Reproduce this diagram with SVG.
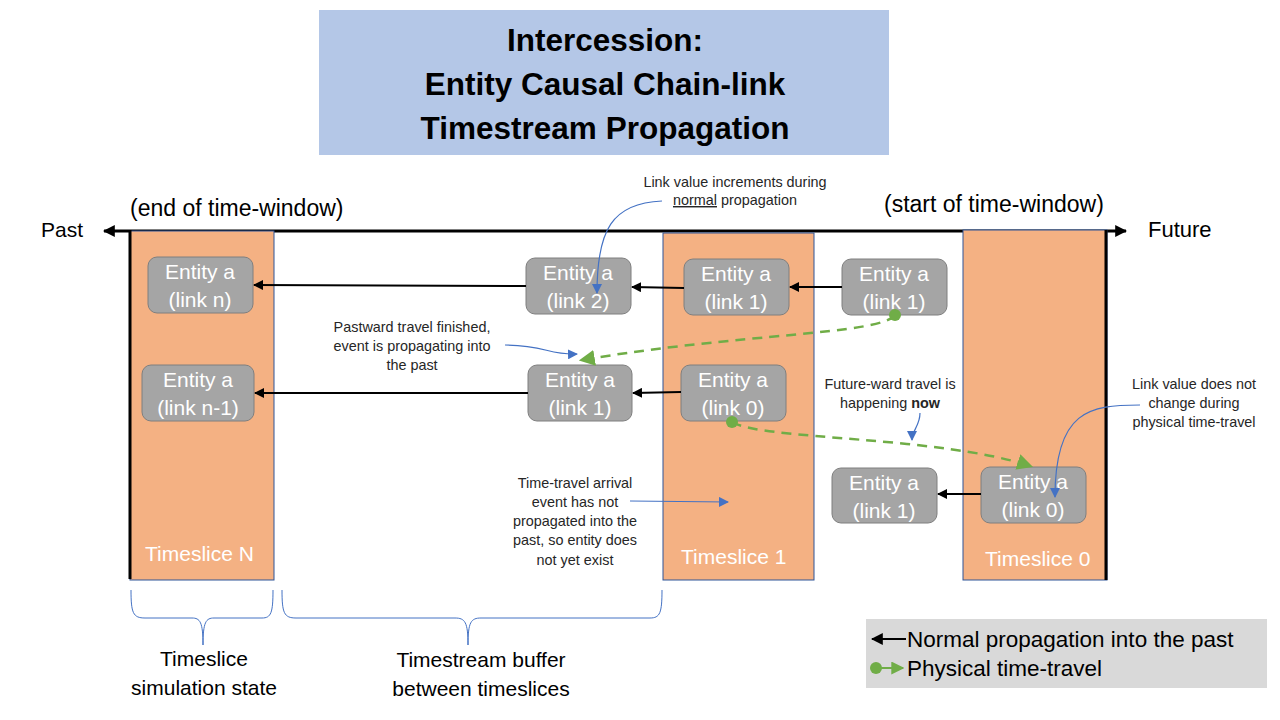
<svg xmlns="http://www.w3.org/2000/svg" width="1280" height="720" viewBox="0 0 1280 720">
<defs>
<marker id="blk" viewBox="0 0 10 10" refX="9" refY="5" markerWidth="5" markerHeight="5" orient="auto-start-reverse" markerUnits="strokeWidth"><path d="M0,0 L10,5 L0,10 Z" fill="#000"/></marker>
<marker id="tl" viewBox="0 0 10 10" refX="9" refY="5" markerWidth="4" markerHeight="4" orient="auto-start-reverse" markerUnits="strokeWidth"><path d="M0,0 L10,5 L0,10 Z" fill="#000"/></marker>
<marker id="blkL" viewBox="0 0 10 10" refX="9" refY="5" markerWidth="12" markerHeight="12" orient="auto" markerUnits="userSpaceOnUse"><path d="M0,0 L10,5 L0,10 Z" fill="#000"/></marker>
<marker id="grn" viewBox="0 0 10 10" refX="9" refY="5" markerWidth="13" markerHeight="13" orient="auto" markerUnits="userSpaceOnUse"><path d="M0,0 L10,5 L0,10 Z" fill="#70AD47"/></marker>
<marker id="grnA" viewBox="0 0 10 10" refX="8" refY="5" markerWidth="16" markerHeight="16" orient="auto" markerUnits="userSpaceOnUse"><path d="M0,0 L10,5 L0,10 Z" fill="#70AD47"/></marker>
<marker id="blu" viewBox="0 0 10 10" refX="9" refY="5" markerWidth="10" markerHeight="10" orient="auto" markerUnits="userSpaceOnUse"><path d="M0,0 L10,5 L0,10 Z" fill="#4472C4"/></marker>
</defs>
<style>
text{font-family:"Liberation Sans",Arial,sans-serif}
.title{font-size:31.5px;font-weight:bold;fill:#000;text-anchor:middle}
.slice{fill:#F4B183;stroke:#2F5597;stroke-width:1}
.slabel{font-size:21px;fill:#fff}
.ent rect{fill:#A5A5A5;stroke:#7F7F7F;stroke-width:1}
.ent text{font-size:21px;fill:#fff;text-anchor:middle}
.lbl{font-size:21px;fill:#000}
.big{font-size:23px}
.leg{font-size:22.5px}
.ann{font-size:14.4px;fill:#262626;text-anchor:middle}
.conn{stroke:#000;stroke-width:2;fill:none;marker-end:url(#blk)}
.tt{stroke:#70AD47;stroke-width:2.5;fill:none;stroke-dasharray:10,7;marker-end:url(#grnA)}
.bl{stroke:#4472C4;stroke-width:1.2;fill:none;marker-end:url(#blu)}
.brace{stroke:#4472C4;stroke-width:1;fill:none}
</style>
<g id="title">
<rect x="319" y="10" width="570" height="145" fill="#B4C7E7"/>
<text class="title" x="605" y="51">Intercession:</text>
<text class="title" x="605" y="95">Entity Causal Chain-link</text>
<text class="title" x="605" y="139">Timestream Propagation</text>
</g>
<g id="timeline">
<line x1="104" y1="231" x2="1126" y2="231" stroke="#000" stroke-width="3" marker-start="url(#tl)" marker-end="url(#tl)"/>
<text class="lbl" x="41" y="237">Past</text>
<text class="lbl" x="1148" y="237" style="font-size:22px">Future</text>
<text class="lbl big" x="130" y="216">(end of time-window)</text>
<text class="lbl big" x="884" y="212">(start of time-window)</text>
</g>
<g id="timesliceN">
<rect class="slice" x="130" y="231" width="144" height="349"/>
<line x1="130" y1="230" x2="130" y2="579" stroke="#000" stroke-width="3"/>
<text class="slabel" x="145" y="561">Timeslice N</text>
</g>
<g id="timeslice1">
<rect class="slice" x="663" y="233" width="151" height="347"/>
<text class="slabel" x="681" y="564">Timeslice 1</text>
</g>
<g id="timeslice0">
<rect class="slice" x="963" y="230" width="144" height="350"/>
<line x1="1106" y1="230" x2="1106" y2="580" stroke="#000" stroke-width="3"/>
<text class="slabel" x="985" y="566">Timeslice 0</text>
</g>
<g id="eN1" class="ent"><rect x="148" y="257" width="105" height="56" rx="9"/><text x="200" y="279">Entity a</text><text x="200" y="307">(link n)</text></g>
<g id="eN2" class="ent"><rect x="142" y="365" width="112" height="56" rx="9"/><text x="198" y="387">Entity a</text><text x="198" y="415">(link n-1)</text></g>
<g id="eB1" class="ent"><rect x="526" y="258" width="105" height="56" rx="9"/><text x="578" y="280">Entity a</text><text x="578" y="308">(link 2)</text></g>
<g id="eB2" class="ent"><rect x="528" y="365" width="104" height="56" rx="9"/><text x="580" y="387">Entity a</text><text x="580" y="415">(link 1)</text></g>
<g id="eS1a" class="ent"><rect x="684" y="259" width="105" height="56" rx="9"/><text x="736" y="281">Entity a</text><text x="736" y="309">(link 1)</text></g>
<g id="eS1b" class="ent"><rect x="681" y="365" width="105" height="56" rx="9"/><text x="733" y="387">Entity a</text><text x="733" y="415">(link 0)</text></g>
<g id="eF1" class="ent"><rect x="842" y="259" width="105" height="56" rx="9"/><text x="894" y="281">Entity a</text><text x="894" y="309">(link 1)</text></g>
<g id="eF2" class="ent"><rect x="832" y="468" width="105" height="55" rx="9"/><text x="884" y="490">Entity a</text><text x="884" y="518">(link 1)</text></g>
<g id="eS0" class="ent"><rect x="981" y="467" width="105" height="56" rx="9"/><text x="1033" y="489">Entity a</text><text x="1033" y="517">(link 0)</text></g>
<g id="connectors">
<path class="conn" d="M526,286 L254,285"/>
<path class="conn" d="M684,288 L632,287"/>
<path class="conn" d="M842,287 L790,287"/>
<path class="conn" d="M528,393 L255,393"/>
<path class="conn" d="M681,392 L633,393"/>
<path class="conn" d="M981,494 L938,494"/>
<path class="tt" d="M895,315 C880,335 740,333 582,360"/>
<circle cx="895" cy="315" r="6" fill="#70AD47"/>
<path class="tt" d="M732,422 C760,440 940,436 1030,466"/>
<circle cx="732" cy="422" r="6" fill="#70AD47"/>
<path class="bl" d="M662,201 C612,203 597,230 597,293"/>
<path class="bl" d="M505,345 C545,345 548,355 577,354"/>
<path class="bl" d="M920,413 C920,426 912,430 912,440"/>
<path class="bl" d="M1140,405 C1090,405 1055,410 1055,497"/>
<path class="bl" d="M630,501 L728,502"/>
</g>
<g id="annotations">
<text class="ann" x="735" y="187">Link value increments during</text>
<text class="ann" x="735" y="205"><tspan text-decoration="underline">normal</tspan> propagation</text>
<text class="ann" x="412" y="332">Pastward travel finished,</text>
<text class="ann" x="412" y="351">event is propagating into</text>
<text class="ann" x="412" y="370">the past</text>
<text class="ann" x="890" y="389">Future-ward travel is</text>
<text class="ann" x="890" y="408">happening <tspan font-weight="bold">now</tspan></text>
<text class="ann" x="1194" y="389">Link value does not</text>
<text class="ann" x="1194" y="408">change during</text>
<text class="ann" x="1194" y="427">physical time-travel</text>
<text class="ann" x="575" y="488">Time-travel arrival</text>
<text class="ann" x="575" y="507">event has not</text>
<text class="ann" x="575" y="526">propagated into the</text>
<text class="ann" x="575" y="545">past, so entity does</text>
<text class="ann" x="575" y="565">not yet exist</text>
</g>
<g id="braces">
<path class="brace" d="M131,590 C131,613 133,618 145,618 L192,618 C200,618 203,622 203,645 C203,622 206,618 214,618 L262,618 C271,618 273,613 273,590"/>
<path class="brace" d="M282,590 C282,613 284,618 296,618 L455,618 C465,618 468,622 468,645 C468,622 471,618 481,618 L650,618 C660,618 662,613 662,590"/>
<text class="lbl" x="204" y="666" text-anchor="middle">Timeslice</text>
<text class="lbl" x="204" y="695" text-anchor="middle">simulation state</text>
<text class="lbl" x="481" y="667" text-anchor="middle">Timestream buffer</text>
<text class="lbl" x="481" y="696" text-anchor="middle">between timeslices</text>
</g>
<g id="legend">
<rect x="866" y="619" width="401" height="69" fill="#D9D9D9"/>
<line x1="906" y1="639" x2="872" y2="639" stroke="#000" stroke-width="2" marker-end="url(#blkL)"/>
<text class="lbl leg" x="907" y="647">Normal propagation into the past</text>
<circle cx="876" cy="668" r="6" fill="#70AD47"/>
<line x1="876" y1="668" x2="903" y2="668" stroke="#70AD47" stroke-width="2" marker-end="url(#grn)"/>
<text class="lbl leg" x="907" y="676">Physical time-travel</text>
</g>
</svg>
